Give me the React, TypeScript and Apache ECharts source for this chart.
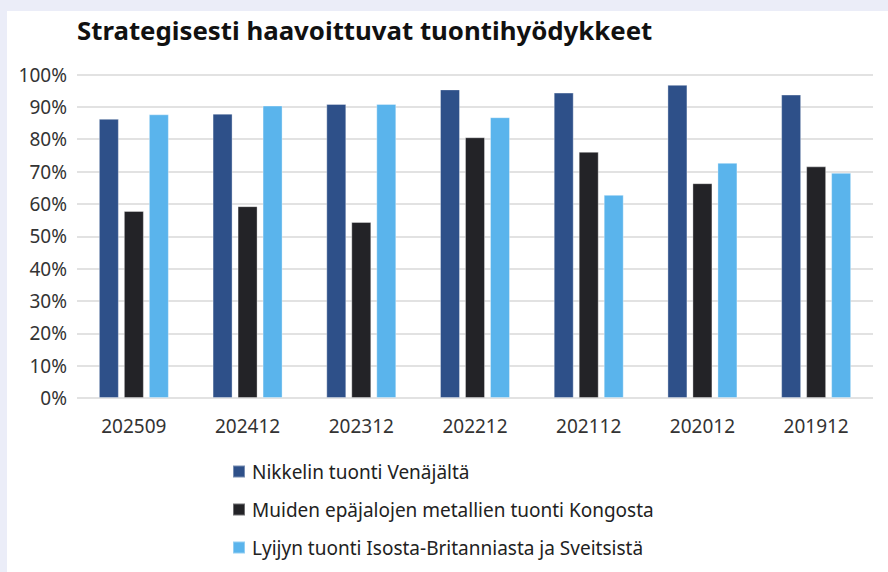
import React, { useEffect, useRef } from "react";
import * as echarts from "echarts";

const categories = ["202509", "202412", "202312", "202212", "202112", "202012", "201912"];
const nickelRussia = [86.3, 87.9, 90.9, 95.4, 94.4, 96.8, 93.8];
const otherMetalsCongo = [57.8, 59.3, 54.4, 80.6, 76.1, 66.4, 71.6];
const leadUkSwitzerland = [87.7, 90.4, 90.9, 86.8, 62.8, 72.7, 69.6];
const seriesNames = [
  "Nikkelin tuonti Venäjältä",
  "Muiden epäjalojen metallien tuonti Kongosta",
  "Lyijyn tuonti Isosta-Britanniasta ja Sveitsistä",
];
const titleText = "Strategisesti haavoittuvat tuontihyödykkeet";

const FONT = "'Noto Sans', sans-serif";

export default function App() {
  const ref = useRef<HTMLDivElement>(null);
  useEffect(() => {
    document.body.style.margin = "0";
    const chart = echarts.init(ref.current!, null, { renderer: "svg" });
    const colors = ["#2e5089", "#232327", "#5ab4ec"];
    const data = [nickelRussia, otherMetalsCongo, leadUkSwitzerland];
    chart.setOption({
      animation: false,
      backgroundColor: "#ebedf8",
      textStyle: { fontFamily: FONT },
      graphic: [
        {
          type: "rect",
          z: -10,
          shape: { x: 7, y: 11, width: 881, height: 561 },
          style: { fill: "#ffffff" },
        },
        {
          type: "text",
          left: 77,
          top: 17,
          style: {
            text: titleText,
            font: `bold 25.8px ${FONT}`,
            fill: "#111111",
          },
        },
      ],
      legend: {
        orient: "vertical",
        left: 232,
        top: 462,
        padding: 0,
        itemWidth: 12,
        itemHeight: 12,
        itemGap: 19,
        icon: "rect",
        textStyle: { fontSize: 19, color: "#222222", fontFamily: FONT, padding: [0, 0, 0, 2] },
        data: seriesNames,
      },
      grid: { left: 77, right: 15, top: 74.5, bottom: 174 },
      xAxis: {
        type: "category",
        data: categories,
        axisLine: { show: false },
        axisTick: { show: false },
        axisLabel: { fontSize: 19, color: "#333333", margin: 18, fontFamily: FONT },
      },
      yAxis: {
        type: "value",
        min: 0,
        max: 100,
        interval: 10,
        axisLabel: { formatter: "{value}%", fontSize: 19, color: "#333333", margin: 10, fontFamily: FONT },
        splitLine: { lineStyle: { color: "#d9d9d9", width: 1.5 } },
      },
      series: data.map((d, i) => ({
        name: seriesNames[i],
        type: "bar",
        data: d,
        barWidth: 20,
        barGap: "25%",
        itemStyle: { color: colors[i], borderColor: "rgba(255,255,255,0.35)", borderWidth: 1 },
      })),
    });
    return () => chart.dispose();
  }, []);
  return <div ref={ref} style={{ width: 888, height: 572 }} />;
}
